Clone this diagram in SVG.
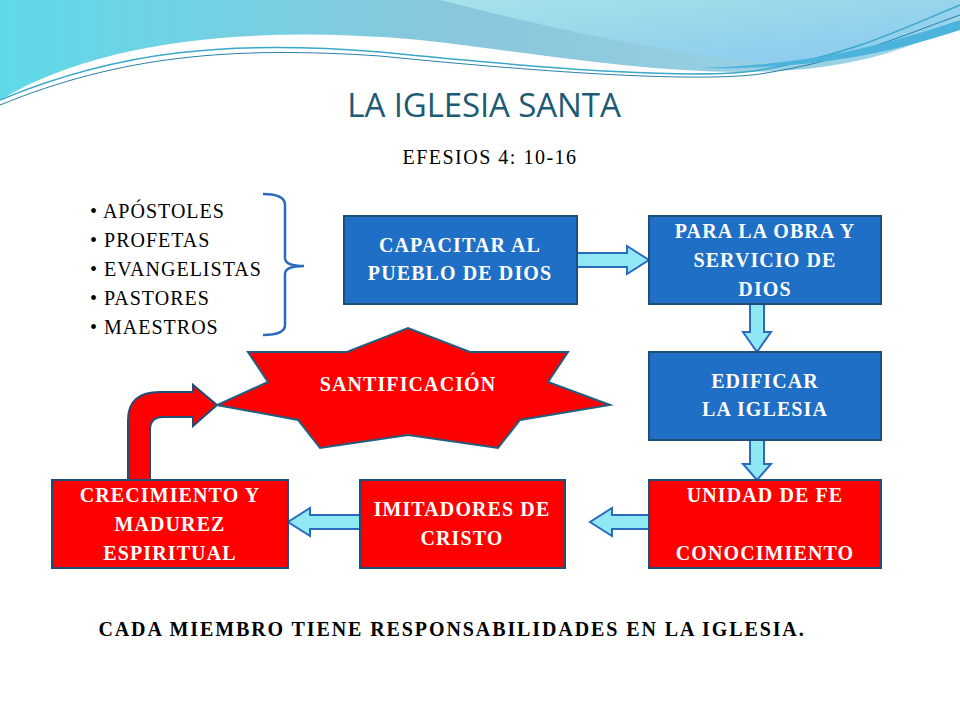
<svg xmlns="http://www.w3.org/2000/svg" width="960" height="720" viewBox="0 0 960 720">
<defs>
<linearGradient id="w1" x1="0" y1="0" x2="1" y2="0"><stop offset="0" stop-color="#5fd9e8"/><stop offset="0.5" stop-color="#8cc6dc"/><stop offset="1" stop-color="#9fd6e8"/></linearGradient>
<linearGradient id="w2" x1="0" y1="0" x2="1" y2="1"><stop offset="0" stop-color="#a8e2ea"/><stop offset="1" stop-color="#88c8ee"/></linearGradient>
<style>
.box{stroke:#1f4e79;stroke-width:2}
.blue{fill:#1f6fc6}
.red{fill:#ff0000}
.t{font-family:"Liberation Serif",serif;font-weight:bold;font-size:20px;letter-spacing:1.1px;fill:#fff;text-anchor:middle}
.arr{fill:#8fe8f4;stroke:#2a6bbf;stroke-width:2}
.bl{font-family:"Liberation Serif",serif;font-size:20px;letter-spacing:1px;fill:#000}
</style>
</defs>
<rect width="960" height="720" fill="#fff"/>
<g id="header">
<path d="M0 0 H960 V20 C820 110 600 60 420 40 C250 25 100 40 0 100 Z" fill="url(#w1)"/>
<path d="M440 0 H960 V15 C880 60 800 70 720 58 C600 40 520 20 440 0 Z" fill="url(#w2)"/>
<path d="M0 100 C120 50 230 40 380 52 C560 70 700 80 760 70 C850 55 900 30 960 5" fill="none" stroke="#3aa8c8" stroke-width="1.5"/>
<path d="M0 105 C120 56 230 46 380 56 C560 74 700 82 760 74 C850 60 900 36 960 15" fill="none" stroke="#2a7fa8" stroke-width="1"/>
<path d="M700 68 C820 65 900 40 960 20 V30 C900 50 820 70 700 68 Z" fill="#4cb4dc"/>
</g>
<text x="484" y="117" text-anchor="middle" font-family="Open Sans,sans-serif" font-size="33" fill="#1d5a74" letter-spacing="-0.1">LA IGLESIA SANTA</text>
<text x="490" y="164" text-anchor="middle" font-family="Liberation Serif,serif" font-size="20" letter-spacing="1.5" fill="#000">EFESIOS 4: 10-16</text>
<g id="list">
<text class="bl" x="90" y="218">• APÓSTOLES</text>
<text class="bl" x="90" y="247">• PROFETAS</text>
<text class="bl" x="90" y="276">• EVANGELISTAS</text>
<text class="bl" x="90" y="305">• PASTORES</text>
<text class="bl" x="90" y="334">• MAESTROS</text>
<path d="M263 194 Q285 194 285 205 V258 Q285 266 304 266 Q285 266 285 274 V325 Q285 335 263 335" fill="none" stroke="#2a6bbf" stroke-width="2.5"/>
</g>
<g id="connectors">
<path class="arr" d="M577 253 H627 V246 L649 260 L627 274 V267 H577 Z"/>
<path class="arr" d="M750 304 V332 H743 L757 352 L771 332 H764 V304 Z"/>
<path class="arr" d="M750 440 V464 H743 L757 480 L771 464 H764 V440 Z"/>
<path class="arr" d="M649 515 H612 V508 L590 522 L612 536 V529 H649 Z"/>
<path class="arr" d="M360 515 H310 V508 L288 522 L310 536 V529 H360 Z"/>
<path d="M128 480 V420 Q128 392 160 392 H193 V385 L217 405 L193 426 V417 H163 Q150 417 150 430 V480 Z" fill="#ff0000" stroke="#1f4e79" stroke-width="2"/>
</g>
<g id="capacitar"><rect class="box blue" x="344" y="216" width="233" height="88"/><text class="t" x="460" y="252">CAPACITAR AL</text><text class="t" x="460" y="280">PUEBLO DE DIOS</text></g>
<g id="obra"><rect class="box blue" x="649" y="216" width="232" height="88"/><text class="t" x="765" y="238">PARA LA OBRA Y</text><text class="t" x="765" y="267">SERVICIO DE</text><text class="t" x="765" y="296">DIOS</text></g>
<g id="edificar"><rect class="box blue" x="649" y="352" width="232" height="88"/><text class="t" x="765" y="388">EDIFICAR</text><text class="t" x="765" y="416">LA IGLESIA</text></g>
<g id="unidad"><rect class="box red" x="649" y="480" width="232" height="88"/><text class="t" x="765" y="502">UNIDAD DE FE</text><text class="t" x="765" y="560">CONOCIMIENTO</text></g>
<g id="imitadores"><rect class="box red" x="360" y="480" width="205" height="88"/><text class="t" x="462" y="516">IMITADORES DE</text><text class="t" x="462" y="545">CRISTO</text></g>
<g id="crecimiento"><rect class="box red" x="52" y="480" width="236" height="88"/><text class="t" x="170" y="502">CRECIMIENTO Y</text><text class="t" x="170" y="531">MADUREZ</text><text class="t" x="170" y="560">ESPIRITUAL</text></g>
<g id="santificacion"><polygon points="248,352 347,352 408,328 470,352 568,352 548,382 610,405 520,420 498,448 408,435 320,448 298,420 217,405 268,382" fill="#ff0000" stroke="#1f5f7f" stroke-width="2"/><text class="t" x="408" y="391">SANTIFICACIÓN</text></g>
<text x="452" y="636" text-anchor="middle" font-family="Liberation Serif,serif" font-weight="bold" font-size="20" letter-spacing="1.9" fill="#000">CADA MIEMBRO TIENE RESPONSABILIDADES EN LA IGLESIA.</text>
</svg>
